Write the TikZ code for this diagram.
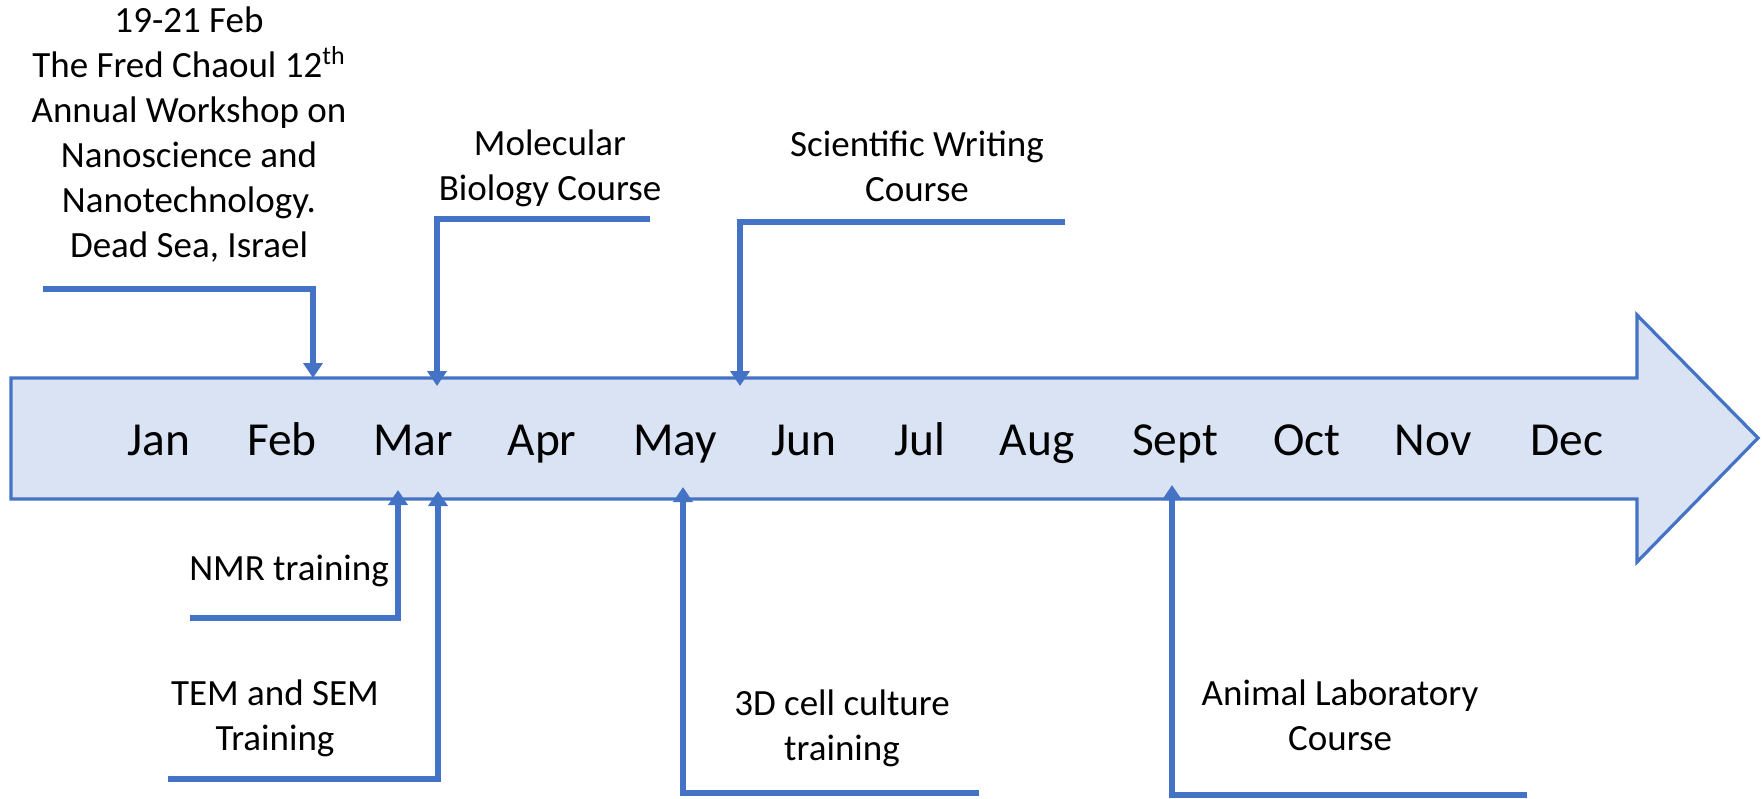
\documentclass[tikz,border=0pt]{standalone}
\usepackage{fontspec}
\setmainfont{Carlito}
\usetikzlibrary{arrows.meta}
\definecolor{accent}{HTML}{4472C4}
\definecolor{lightfill}{HTML}{DAE3F3}
\tikzset{
  timeline/.style={draw=accent, fill=lightfill, line width=1.6pt, line join=miter},
  month/.style={anchor=base, inner sep=0pt, font=\fontsize{23.7}{28}\selectfont},
  label/.style={anchor=base, inner sep=0pt, align=center, font=\fontsize{18.5}{22.5}\selectfont},
  conn/.style={draw=accent, line width=2.8pt, line join=miter, -{Triangle[width=9.5pt,length=7.5pt]}}
}
\begin{document}
\begin{tikzpicture}[x=0.5pt,y=-0.5pt]
\useasboundingbox (0,0) rectangle (1764,798);
% main arrow
\draw[timeline] (11,378) -- (1637,378) -- (1637,315) -- (1758,438) -- (1637,562) -- (1637,499) -- (11,499) -- cycle;
% months
\node[month] (jan) at (159,455) {Jan};
\node[month] (feb) at (282,455) {Feb};
\node[month] (mar) at (413,455) {Mar};
\node[month] (apr) at (542,455) {Apr};
\node[month] (may) at (675,455) {May};
\node[month] (jun) at (804,455) {Jun};
\node[month] (jul) at (920,455) {Jul};
\node[month] (aug) at (1037,455) {Aug};
\node[month] (sep) at (1175,455) {Sept};
\node[month] (oct) at (1307,455) {Oct};
\node[month] (nov) at (1433,455) {Nov};
\node[month] (dec) at (1567,455) {Dec};
% labels (anchor = baseline of last line)
\node[label] (workshop) at (189,257) {19-21 Feb\\The Fred Chaoul 12\textsuperscript{th}\\Annual Workshop on\\Nanoscience and\\Nanotechnology.\\Dead Sea, Israel};
\node[label] (molbio) at (550,200) {Molecular\\Biology Course};
\node[label] (scwrite) at (917,201) {Scientific Writing\\Course};
\node[label] (nmr) at (289,580) {NMR training};
\node[label] (tem) at (275,750) {TEM and SEM\\Training};
\node[label] (cell) at (842,760) {3D cell culture\\training};
\node[label] (animal) at (1340,750) {Animal Laboratory\\Course};
% connector coordinates
\coordinate (wsA) at (43,289);
\coordinate (wsT) at (313,378);
\coordinate (mbA) at (650,219);
\coordinate (mbT) at (437,386);
\coordinate (swA) at (1065,222);
\coordinate (swT) at (740,386);
\coordinate (nmA) at (190,618);
\coordinate (nmT) at (398,490);
\coordinate (teA) at (168,779);
\coordinate (teT) at (438,491);
\coordinate (ceA) at (979,793);
\coordinate (ceT) at (683,487);
\coordinate (anA) at (1527,795);
\coordinate (anT) at (1172,485);
% connectors
\draw[conn] (wsA) -| (wsT);
\draw[conn] (mbA) -| (mbT);
\draw[conn] (swA) -| (swT);
\draw[conn] (nmA) -| (nmT);
\draw[conn] (teA) -| (teT);
\draw[conn] (ceA) -| (ceT);
\draw[conn] (anA) -| (anT);
\end{tikzpicture}
\end{document}
